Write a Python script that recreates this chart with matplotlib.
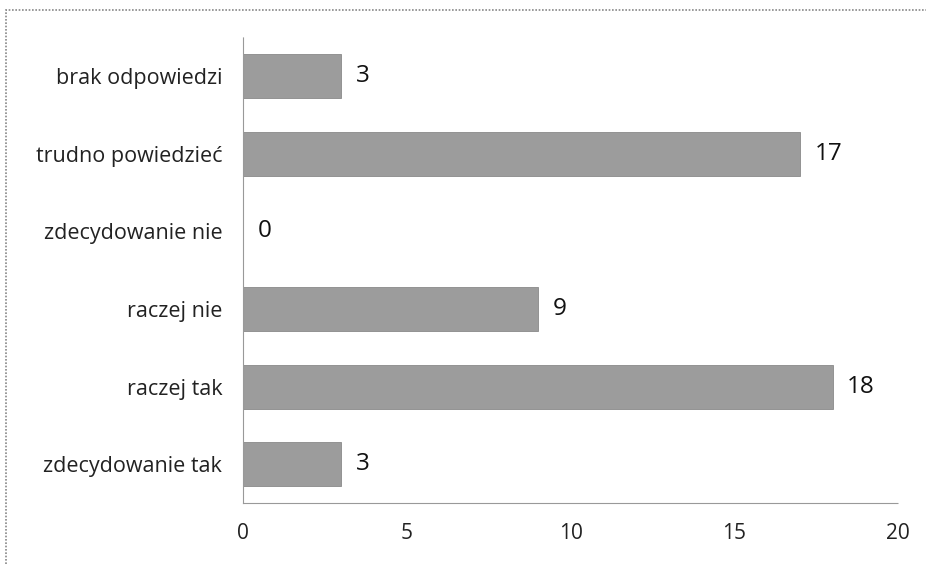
import matplotlib.pyplot as plt
from matplotlib.patches import Rectangle

# Survey answers (bottom to top as drawn)
categories = ["zdecydowanie tak", "raczej tak", "raczej nie",
              "zdecydowanie nie", "trudno powiedzieć", "brak odpowiedzi"]
counts = [3, 18, 9, 0, 17, 3]
xticks = [0, 5, 10, 15, 20]

plt.rcParams["font.family"] = ["Open Sans", "DejaVu Sans"]

fig = plt.figure(figsize=(9.26, 5.64), dpi=100)
ax = fig.add_axes([0.2624, 0.108, 0.7074, 0.8257])

bars = ax.barh(categories, counts, height=0.57, color="#9c9c9c",
               edgecolor="#8a8a8a", linewidth=0.6)
for b, v in zip(bars, counts):
    ax.text(b.get_width() + 0.45, b.get_y() + b.get_height() / 2, str(v),
            va="center", ha="left", fontsize=17.5, color="#111111")

ax.set_xlim(0, 20)
ax.set_ylim(-0.5, len(categories) - 0.5)
ax.set_xticks(xticks)
ax.tick_params(axis="both", length=0, colors="#222222")
ax.tick_params(axis="x", pad=14, labelsize=15)
ax.tick_params(axis="y", pad=15, labelsize=15.5)

for s in ["top", "right"]:
    ax.spines[s].set_visible(False)
for s in ["left", "bottom"]:
    ax.spines[s].set_color("#999999")
    ax.spines[s].set_linestyle((0, (1, 1)))
    ax.spines[s].set_linewidth(0.8)

# scanned page frame
fig.patches.append(Rectangle((0.007, -0.01), 1.0, 0.992, transform=fig.transFigure,
                             fill=False, edgecolor="#888888", linewidth=1.2,
                             linestyle=(0, (1, 1))))

fig.savefig("out.png", dpi=100)
